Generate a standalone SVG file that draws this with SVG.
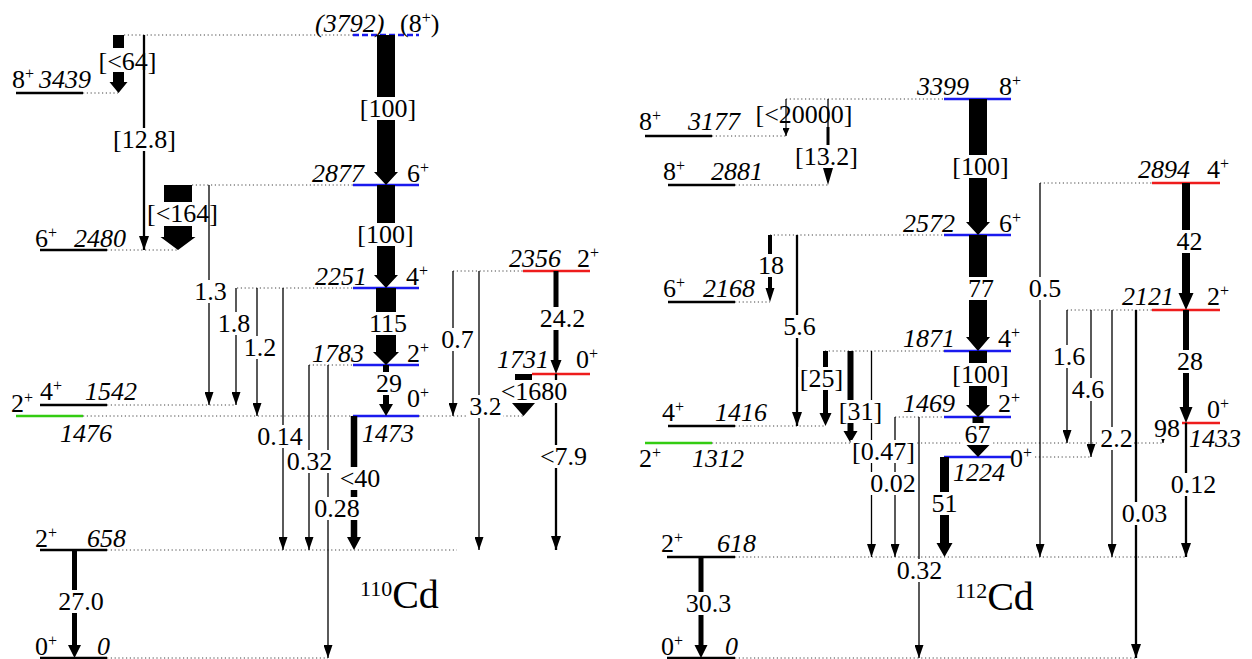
<svg xmlns="http://www.w3.org/2000/svg" width="1252" height="659" viewBox="0 0 1252 659">
<style>
text{font-family:"Liberation Serif","Times New Roman",serif;font-size:26px;fill:#000}
.it{font-style:italic}
.sp{font-size:16px}
.lb,.nb{text-anchor:middle}
.bgr{fill:#fff;stroke:none}
.lv{stroke-width:2.5;fill:none}
.k{stroke:#000}.b{stroke:#1a1aee}.r{stroke:#ee1c1c}.g{stroke:#33cc11}
.dt{stroke:#444;stroke-width:1;stroke-dasharray:1.2 2.6;fill:none}
.tl{stroke:#000;stroke-width:1.3;marker-end:url(#ah)}
.tm{stroke:#000;stroke-width:2.3;marker-end:url(#ahm)}
.ts{stroke:#000;stroke-width:1.2;marker-end:url(#ahs)}
.th{fill:#000;stroke:none}
.iso{font-size:40px}
.isup{font-size:22px}
</style>
<defs>
<marker id="ah" markerUnits="userSpaceOnUse" markerWidth="13" markerHeight="9" refX="13" refY="4.5" orient="auto"><path d="M0,0L13,4.5L0,9Z" fill="#000"/></marker>
<marker id="ahm" markerUnits="userSpaceOnUse" markerWidth="14" markerHeight="10" refX="14" refY="5" orient="auto"><path d="M0,0L14,5L0,10Z" fill="#000"/></marker>
<marker id="ahs" markerUnits="userSpaceOnUse" markerWidth="8" markerHeight="7" refX="8" refY="3.5" orient="auto"><path d="M0,0L8,3.5L0,7Z" fill="#000"/></marker>
</defs>
<rect width="1252" height="659" fill="#fff"/>

<g id="cd110-levels">
<g id="L110-0"><line class="dt" x1="107" y1="658" x2="328" y2="658"/><line class="lv k" x1="40" y1="658" x2="107" y2="658"/><text x="35" y="655">0<tspan class="sp" dy="-9">+</tspan></text><text class="it" x="97" y="655">0</text></g>
<g id="L110-658"><line class="dt" x1="107" y1="550" x2="457" y2="550"/><line class="lv k" x1="40" y1="550" x2="107" y2="550"/><text x="35" y="547">2<tspan class="sp" dy="-9">+</tspan></text><text class="it" x="87" y="547">658</text></g>
<g id="L110-1476"><line class="dt" x1="83" y1="416" x2="353" y2="416"/><line class="lv g" x1="16" y1="416" x2="83" y2="416"/><text x="11" y="412">2<tspan class="sp" dy="-9">+</tspan></text><text class="it" x="60" y="442">1476</text></g>
<g id="L110-1473"><line class="dt" x1="419" y1="416" x2="523" y2="416"/><line class="lv b" x1="353" y1="416" x2="419" y2="416"/><text x="407" y="407">0<tspan class="sp" dy="-9">+</tspan></text><text class="it" x="362" y="442">1473</text></g>
<g id="L110-1542"><line class="dt" x1="107" y1="405" x2="236" y2="405"/><line class="lv k" x1="40" y1="405" x2="107" y2="405"/><text x="40" y="400">4<tspan class="sp" dy="-9">+</tspan></text><text class="it" x="85" y="400">1542</text></g>
<g id="L110-1731"><line class="lv r" x1="532" y1="374" x2="590" y2="374"/><text class="it" x="497" y="368">1731</text><text x="576" y="368">0<tspan class="sp" dy="-9">+</tspan></text></g>
<g id="L110-1783"><line class="dt" x1="309" y1="365" x2="353" y2="365"/><line class="lv b" x1="353" y1="365" x2="419" y2="365"/><text class="it" x="312" y="362">1783</text><text x="407" y="362">2<tspan class="sp" dy="-9">+</tspan></text></g>
<g id="L110-2251"><line class="dt" x1="237" y1="288" x2="353" y2="288"/><line class="lv b" x1="353" y1="288" x2="419" y2="288"/><text class="it" x="315" y="285">2251</text><text x="406" y="285">4<tspan class="sp" dy="-9">+</tspan></text></g>
<g id="L110-2356"><line class="dt" x1="453" y1="271" x2="523" y2="271"/><line class="lv r" x1="523" y1="271" x2="590" y2="271"/><text class="it" x="509" y="267">2356</text><text x="577" y="267">2<tspan class="sp" dy="-9">+</tspan></text></g>
<g id="L110-2480"><line class="dt" x1="107" y1="250" x2="178" y2="250"/><line class="lv k" x1="40" y1="250" x2="107" y2="250"/><text x="35" y="247">6<tspan class="sp" dy="-9">+</tspan></text><text class="it" x="74" y="247">2480</text></g>
<g id="L110-2877"><line class="dt" x1="192" y1="185" x2="353" y2="185"/><line class="lv b" x1="353" y1="185" x2="419" y2="185"/><text class="it" x="312" y="182">2877</text><text x="407" y="182">6<tspan class="sp" dy="-9">+</tspan></text></g>
<g id="L110-3439"><line class="dt" x1="83" y1="93" x2="118" y2="93"/><line class="lv k" x1="16" y1="93" x2="83" y2="93"/><text x="12" y="88">8<tspan class="sp" dy="-9">+</tspan></text><text class="it" x="39" y="88">3439</text></g>
<g id="L110-3792"><line class="dt" x1="124" y1="35" x2="353" y2="35"/><line class="lv b" x1="353" y1="35" x2="419" y2="35" stroke-dasharray="6 3"/><text class="it" x="315" y="32">(3792)</text><text x="400" y="32">(8<tspan class="sp" dy="-9">+</tspan><tspan dy="9">)</tspan></text></g>
</g>

<g id="cd112-levels">
<g id="L112-0"><line class="dt" x1="735" y1="658" x2="1136" y2="658"/><line class="lv k" x1="667" y1="658" x2="735" y2="658"/><text x="661" y="655">0<tspan class="sp" dy="-9">+</tspan></text><text class="it" x="725" y="655">0</text></g>
<g id="L112-618"><line class="dt" x1="735" y1="557" x2="1187" y2="557"/><line class="lv k" x1="667" y1="557" x2="735" y2="557"/><text x="661" y="552">2<tspan class="sp" dy="-9">+</tspan></text><text class="it" x="717" y="552">618</text></g>
<g id="L112-1224"><line class="dt" x1="1035" y1="457" x2="1092" y2="457"/><line class="lv b" x1="944" y1="457" x2="1011" y2="457"/><text x="1010" y="467">0<tspan class="sp" dy="-9">+</tspan></text><text class="it" x="953" y="481">1224</text></g>
<g id="L112-1312"><line class="dt" x1="712" y1="443" x2="1163" y2="443"/><line class="lv g" x1="645" y1="443" x2="712" y2="443"/><text x="639" y="467">2<tspan class="sp" dy="-9">+</tspan></text><text class="it" x="692" y="467">1312</text></g>
<g id="L112-1416"><line class="dt" x1="735" y1="426" x2="825" y2="426"/><line class="lv k" x1="668" y1="426" x2="735" y2="426"/><text x="662" y="421">4<tspan class="sp" dy="-9">+</tspan></text><text class="it" x="715" y="421">1416</text></g>
<g id="L112-1433"><line class="lv r" x1="1178" y1="423" x2="1220" y2="423"/><text x="1207" y="418">0<tspan class="sp" dy="-9">+</tspan></text><text class="it" x="1189" y="447">1433</text></g>
<g id="L112-1469"><line class="dt" x1="895" y1="417" x2="944" y2="417"/><line class="lv b" x1="944" y1="417" x2="1011" y2="417"/><text class="it" x="903" y="412">1469</text><text x="998" y="412">2<tspan class="sp" dy="-9">+</tspan></text></g>
<g id="L112-1871"><line class="dt" x1="825" y1="351" x2="944" y2="351"/><line class="lv b" x1="944" y1="351" x2="1011" y2="351"/><text class="it" x="903" y="347">1871</text><text x="998" y="347">4<tspan class="sp" dy="-9">+</tspan></text></g>
<g id="L112-2121"><line class="dt" x1="1067" y1="310" x2="1152" y2="310"/><line class="lv r" x1="1152" y1="310" x2="1220" y2="310"/><text class="it" x="1122" y="305">2121</text><text x="1207" y="305">2<tspan class="sp" dy="-9">+</tspan></text></g>
<g id="L112-2168"><line class="dt" x1="735" y1="302" x2="770" y2="302"/><line class="lv k" x1="668" y1="302" x2="735" y2="302"/><text x="663" y="297">6<tspan class="sp" dy="-9">+</tspan></text><text class="it" x="703" y="297">2168</text></g>
<g id="L112-2572"><line class="dt" x1="770" y1="235" x2="944" y2="235"/><line class="lv b" x1="944" y1="235" x2="1011" y2="235"/><text class="it" x="903" y="232">2572</text><text x="999" y="232">6<tspan class="sp" dy="-9">+</tspan></text></g>
<g id="L112-2881"><line class="dt" x1="735" y1="185" x2="828" y2="185"/><line class="lv k" x1="668" y1="185" x2="735" y2="185"/><text x="663" y="180">8<tspan class="sp" dy="-9">+</tspan></text><text class="it" x="711" y="180">2881</text></g>
<g id="L112-2894"><line class="dt" x1="1040" y1="183" x2="1152" y2="183"/><line class="lv r" x1="1152" y1="183" x2="1220" y2="183"/><text class="it" x="1138" y="178">2894</text><text x="1207" y="178">4<tspan class="sp" dy="-9">+</tspan></text></g>
<g id="L112-3177"><line class="dt" x1="712" y1="136" x2="786" y2="136"/><line class="lv k" x1="645" y1="136" x2="712" y2="136"/><text x="639" y="130">8<tspan class="sp" dy="-9">+</tspan></text><text class="it" x="688" y="130">3177</text></g>
<g id="L112-3399"><line class="dt" x1="786" y1="99" x2="944" y2="99"/><line class="lv b" x1="944" y1="99" x2="1011" y2="99"/><text class="it" x="917" y="95">3399</text><text x="999" y="95">8<tspan class="sp" dy="-9">+</tspan></text></g>
</g>

<g id="connectors">
<!-- 110Cd -->
<path class="th" d="M113,35H124V48H113Z M113,72H124V82H127.5L118.5,93L109.5,82H113Z"/>
<line class="tm" x1="144" y1="35" x2="144" y2="250"/>
<path class="th" d="M164,185H192V202H164Z M164,226H192V237H195.5L178,250L160.5,237H164Z"/>
<polygon class="th" points="377,35 395,35 395,172 398,172 386,185 374,172 377,172"/>
<polygon class="th" points="377,185 395,185 395,275 398,275 386,288 374,275 377,275"/>
<polygon class="th" points="376,288 396,288 396,352 399,352 386,365 373,352 376,352"/>
<polygon class="th" points="383,365 389,365 389,404 393,404 386,416 379,404 383,404"/>
<polygon class="th" points="350.75,416 357.25,416 357.25,537 361,537 354,550 347,537 350.75,537"/>
<polygon class="th" points="553.5,271 558.5,271 558.5,360 561.5,360 556,374 550.5,360 553.5,360"/>
<polygon class="th" points="515,374 532,374 532,403 535,403 523.5,416 512,403 515,403"/>
<polygon class="th" points="72,550 77,550 77,645 81,645 74.5,658 68,645 72,645"/>
<line class="tl" x1="209" y1="185" x2="209" y2="405"/>
<line class="tl" x1="236" y1="288" x2="236" y2="405"/>
<line class="tl" x1="257" y1="288" x2="257" y2="416"/>
<line class="tl" x1="283" y1="288" x2="283" y2="550"/>
<line class="tl" x1="309" y1="365" x2="309" y2="550"/>
<line class="tl" x1="328" y1="365" x2="328" y2="658"/>
<line class="tl" x1="453" y1="271" x2="453" y2="416"/>
<line class="tl" x1="479" y1="271" x2="479" y2="550"/>
<line class="tm" x1="556" y1="374" x2="556" y2="550"/>
<!-- 112Cd -->
<line class="ts" x1="786" y1="99" x2="786" y2="136"/>
<line x1="828" y1="99" x2="828" y2="127" stroke="#000" stroke-width="1.3"/>
<polygon class="th" points="826.5,127 829.5,127 829.5,168 833,168 828,185 823,168 826.5,168"/>
<polygon class="th" points="768,235 772,235 772,288 774.5,288 770,302 765.5,288 768,288"/>
<line class="tm" x1="797" y1="235" x2="797" y2="426"/>
<polygon class="th" points="823,351 828,351 828,413 831.5,413 825.5,426 819.5,413 823,413"/>
<polygon class="th" points="847.5,351 853.5,351 853.5,431 857.5,431 850.5,443 843.5,431 847.5,431"/>
<line class="tl" x1="871.5" y1="351" x2="871.5" y2="557"/>
<line class="tl" x1="895" y1="417" x2="895" y2="557"/>
<line class="tl" x1="919" y1="417" x2="919" y2="658"/>
<polygon class="th" points="969,99 987,99 987,222 990,222 978,235 966,222 969,222"/>
<polygon class="th" points="969,235 987,235 987,337 990,337 978,351 966,337 969,337"/>
<polygon class="th" points="969,351 987,351 987,405 990,405 978,417 966,405 969,405"/>
<polygon class="th" points="972.5,417 983.5,417 983.5,445 989.5,445 978,457 966.5,445 972.5,445"/>
<polygon class="th" points="940,457 949,457 949,543 952.5,543 944.5,557 936.5,543 940,543"/>
<line class="tl" x1="1040" y1="183" x2="1040" y2="557" stroke-width="1.2"/>
<line class="tl" x1="1067" y1="310" x2="1067" y2="443"/>
<line class="tl" x1="1091" y1="310" x2="1091" y2="457"/>
<line class="tl" x1="1112" y1="310" x2="1112" y2="557" stroke-width="1.5"/>
<line class="tm" x1="1136" y1="310" x2="1136" y2="658" stroke-width="2.1"/>
<polygon class="th" points="1182,183 1190,183 1190,293 1193.5,293 1186,310 1178.5,293 1182,293"/>
<polygon class="th" points="1183,310 1189,310 1189,407 1192.5,407 1186,423 1179.5,407 1183,407"/>
<line class="ts" x1="1163" y1="423" x2="1163" y2="443"/>
<line class="tm" x1="1186" y1="423" x2="1186" y2="557" stroke-width="2.5"/>
<polygon class="th" points="698.5,557 703.5,557 703.5,645 707.5,645 701,658 694.5,645 698.5,645"/>

<g id="transition-labels">
<text class="nb" x="127.5" y="70">[&lt;64]</text>
<rect class="bgr" x="111.5" y="128" width="66" height="23"/><text class="lb" x="144.5" y="148">[12.8]</text>
<text class="nb" x="182.5" y="222">[&lt;164]</text>
<rect class="bgr" x="358" y="97" width="60" height="23"/><text class="lb" x="388" y="117">[100]</text>
<rect class="bgr" x="355.5" y="223" width="60" height="23"/><text class="lb" x="385.5" y="243">[100]</text>
<rect class="bgr" x="366.5" y="312" width="43" height="23"/><text class="lb" x="388" y="332">115</text>
<rect class="bgr" x="374" y="372" width="30" height="23"/><text class="lb" x="389" y="392">29</text>
<rect class="bgr" x="192.5" y="280" width="36" height="23"/><text class="lb" x="210.5" y="300">1.3</text>
<rect class="bgr" x="216" y="312" width="36" height="23"/><text class="lb" x="234" y="332">1.8</text>
<rect class="bgr" x="242" y="336" width="36" height="23"/><text class="lb" x="260" y="356">1.2</text>
<rect class="bgr" x="255.5" y="425" width="49" height="23"/><text class="lb" x="280" y="445">0.14</text>
<rect class="bgr" x="285" y="450" width="49" height="23"/><text class="lb" x="309.5" y="470">0.32</text>
<rect class="bgr" x="312.5" y="497" width="49" height="23"/><text class="lb" x="337" y="517">0.28</text>
<rect class="bgr" x="338" y="467" width="44" height="23"/><text class="lb" x="360" y="487">&lt;40</text>
<rect class="bgr" x="439.5" y="328" width="36" height="23"/><text class="lb" x="457.5" y="348">0.7</text>
<rect class="bgr" x="467.5" y="395" width="36" height="23"/><text class="lb" x="485.5" y="415">3.2</text>
<rect class="bgr" x="538" y="307" width="49" height="23"/><text class="lb" x="562.5" y="327">24.2</text>
<rect class="bgr" x="499" y="380" width="70" height="23"/><text class="lb" x="534" y="400">&lt;1680</text>
<rect class="bgr" x="538.5" y="445" width="50" height="23"/><text class="lb" x="563.5" y="465">&lt;7.9</text>
<rect class="bgr" x="56.5" y="590" width="49" height="23"/><text class="lb" x="81" y="610">27.0</text>
<text class="nb" x="804" y="123">[&lt;20000]</text>
<rect class="bgr" x="793.5" y="145" width="66" height="23"/><text class="lb" x="826.5" y="165">[13.2]</text>
<rect class="bgr" x="950.5" y="155" width="60" height="23"/><text class="lb" x="980.5" y="175">[100]</text>
<rect class="bgr" x="966" y="277" width="30" height="23"/><text class="lb" x="981" y="297">77</text>
<rect class="bgr" x="950.5" y="363" width="60" height="23"/><text class="lb" x="980.5" y="383">[100]</text>
<rect class="bgr" x="962.5" y="423" width="30" height="22"/><text class="lb" x="977.5" y="443">67</text>
<rect class="bgr" x="929.5" y="492" width="30" height="23"/><text class="lb" x="944.5" y="512">51</text>
<rect class="bgr" x="756" y="254" width="30" height="23"/><text class="lb" x="771" y="274">18</text>
<rect class="bgr" x="781.5" y="315" width="36" height="23"/><text class="lb" x="799.5" y="335">5.6</text>
<rect class="bgr" x="798.5" y="367" width="46" height="23"/><text class="lb" x="821.5" y="387">[25]</text>
<rect class="bgr" x="837.5" y="400" width="46" height="23"/><text class="lb" x="860.5" y="420">[31]</text>
<rect class="bgr" x="850.5" y="440" width="66" height="23"/><text class="lb" x="883.5" y="460">[0.47]</text>
<rect class="bgr" x="869" y="472" width="48" height="23"/><text class="lb" x="893" y="492">0.02</text>
<rect class="bgr" x="895" y="559" width="49" height="23"/><text class="lb" x="919.5" y="579">0.32</text>
<rect class="bgr" x="1027" y="277" width="36" height="23"/><text class="lb" x="1045" y="297">0.5</text>
<rect class="bgr" x="1051" y="345" width="36" height="23"/><text class="lb" x="1069" y="365">1.6</text>
<rect class="bgr" x="1070" y="378" width="36" height="23"/><text class="lb" x="1088" y="398">4.6</text>
<rect class="bgr" x="1099" y="427" width="35" height="23"/><text class="lb" x="1116.5" y="447">2.2</text>
<rect class="bgr" x="1120" y="502" width="49" height="23"/><text class="lb" x="1144.5" y="522">0.03</text>
<rect class="bgr" x="1174.5" y="230" width="30" height="23"/><text class="lb" x="1189.5" y="250">42</text>
<rect class="bgr" x="1175" y="350" width="30" height="23"/><text class="lb" x="1190" y="370">28</text>
<rect class="bgr" x="1152" y="417" width="30" height="22"/><text class="lb" x="1167" y="437">98</text>
<rect class="bgr" x="1169" y="473" width="49" height="23"/><text class="lb" x="1193.5" y="493">0.12</text>
<rect class="bgr" x="684" y="592" width="49" height="23"/><text class="lb" x="708.5" y="612">30.3</text>
</g>
</g>

<g id="nuclide-110Cd"><text class="iso" x="360" y="608"><tspan class="isup" dy="-12">110</tspan><tspan dy="12">Cd</tspan></text></g>
<g id="nuclide-112Cd"><text class="iso" x="955" y="610"><tspan class="isup" dy="-12">112</tspan><tspan dy="12">Cd</tspan></text></g>
</svg>
